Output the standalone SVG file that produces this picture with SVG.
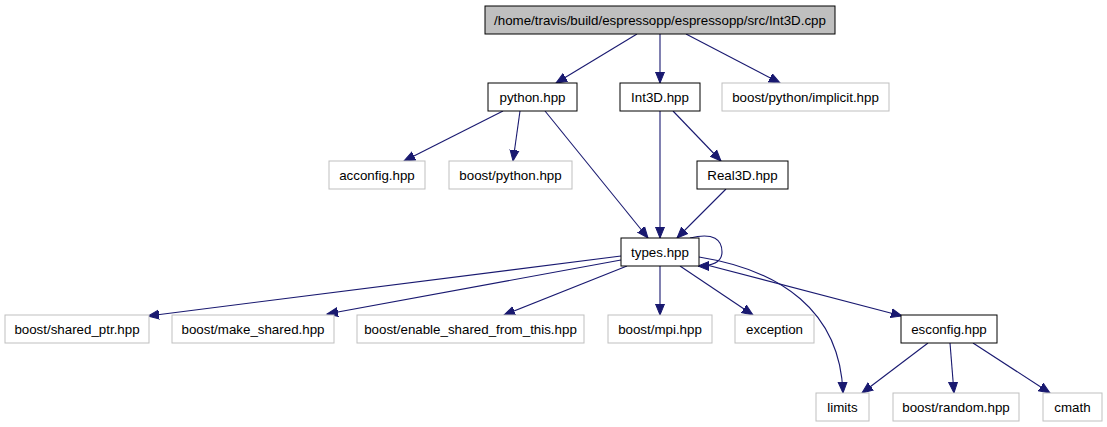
<svg xmlns="http://www.w3.org/2000/svg" width="1107" height="427" viewBox="0 0 1107 427">
<defs>
<marker id="ah" markerUnits="userSpaceOnUse" markerWidth="13" markerHeight="11" viewBox="0 -5.5 13 11" refX="11" refY="0" orient="auto">
<path d="M0,-4.5 L11,0 L0,4.5 Z" fill="#191970" stroke="#191970" stroke-width="1"/>
</marker>
</defs>
<style>
.n rect{fill:#ffffff;stroke:#000000;stroke-width:1}
.x rect{fill:#ffffff;stroke:#bfbfbf;stroke-width:1}
.root rect{fill:#bfbfbf;stroke:#000000;stroke-width:1}
text{font-family:"Liberation Sans",Arial,Helvetica,sans-serif;font-size:13.33px;fill:#000000;text-anchor:middle}
#edges path{fill:none;stroke:#191970;stroke-width:1.1;marker-end:url(#ah)}
</style>
<rect x="0" y="0" width="1107" height="427" fill="#ffffff"/>
<g id="edges">
<path d="M637,34 L556,83"/>
<path d="M660,34 L660,83"/>
<path d="M686,34 L780,83"/>
<path d="M503,111 L404,161"/>
<path d="M520,111 L513,161"/>
<path d="M545,111 L648,238"/>
<path d="M660,111 L660,238"/>
<path d="M673,111 L721,161"/>
<path d="M726,189 L677,238"/>
<path d="M621,256 L148,316"/>
<path d="M621,260 L327,314"/>
<path d="M627,266 L504,315"/>
<path d="M660,266 L660,315"/>
<path d="M680,266 L753,315"/>
<path d="M703,264 L902,316"/>
<path d="M699,257 C780,270 840,310 843,393"/>
<path d="M690,238 C714,232 722,240 722,252 C722,262 714,266 698,266"/>
<path d="M928,343 L862,393"/>
<path d="M950,343 L954,393"/>
<path d="M973,343 L1050,393"/>
</g>
<g id="node_root" class="root"><rect x="485" y="6" width="350" height="28"/><text x="660" y="24.5">/home/travis/build/espressopp/espressopp/src/Int3D.cpp</text></g>
<g id="node_python" class="n"><rect x="488" y="83" width="89" height="28"/><text x="532.5" y="101.5">python.hpp</text></g>
<g id="node_int3d" class="n"><rect x="620" y="83" width="80" height="28"/><text x="660" y="101.5">Int3D.hpp</text></g>
<g id="node_implicit" class="x"><rect x="722" y="83" width="167" height="28"/><text x="805.5" y="101.5">boost/python/implicit.hpp</text></g>
<g id="node_acconfig" class="x"><rect x="329" y="161" width="96" height="28"/><text x="377" y="179.5">acconfig.hpp</text></g>
<g id="node_boostpython" class="x"><rect x="449" y="161" width="123" height="28"/><text x="510.5" y="179.5">boost/python.hpp</text></g>
<g id="node_real3d" class="n"><rect x="697" y="161" width="91" height="28"/><text x="742.5" y="179.5">Real3D.hpp</text></g>
<g id="node_types" class="n"><rect x="621" y="238" width="78" height="28"/><text x="660" y="256.5">types.hpp</text></g>
<g id="node_sharedptr" class="x"><rect x="5" y="315" width="144" height="28"/><text x="77" y="333.5">boost/shared_ptr.hpp</text></g>
<g id="node_makeshared" class="x"><rect x="172" y="315" width="162" height="28"/><text x="253" y="333.5">boost/make_shared.hpp</text></g>
<g id="node_enable" class="x"><rect x="357" y="315" width="227" height="28"/><text x="470.5" y="333.5">boost/enable_shared_from_this.hpp</text></g>
<g id="node_mpi" class="x"><rect x="608" y="315" width="104" height="28"/><text x="660" y="333.5">boost/mpi.hpp</text></g>
<g id="node_exception" class="x"><rect x="735" y="315" width="79" height="28"/><text x="774.5" y="333.5">exception</text></g>
<g id="node_esconfig" class="n"><rect x="901" y="315" width="96" height="28"/><text x="949" y="333.5">esconfig.hpp</text></g>
<g id="node_limits" class="x"><rect x="816" y="393" width="53" height="28"/><text x="842.5" y="411.5">limits</text></g>
<g id="node_random" class="x"><rect x="893" y="393" width="126" height="28"/><text x="956" y="411.5">boost/random.hpp</text></g>
<g id="node_cmath" class="x"><rect x="1043" y="393" width="59" height="28"/><text x="1072.5" y="411.5">cmath</text></g>
</svg>
